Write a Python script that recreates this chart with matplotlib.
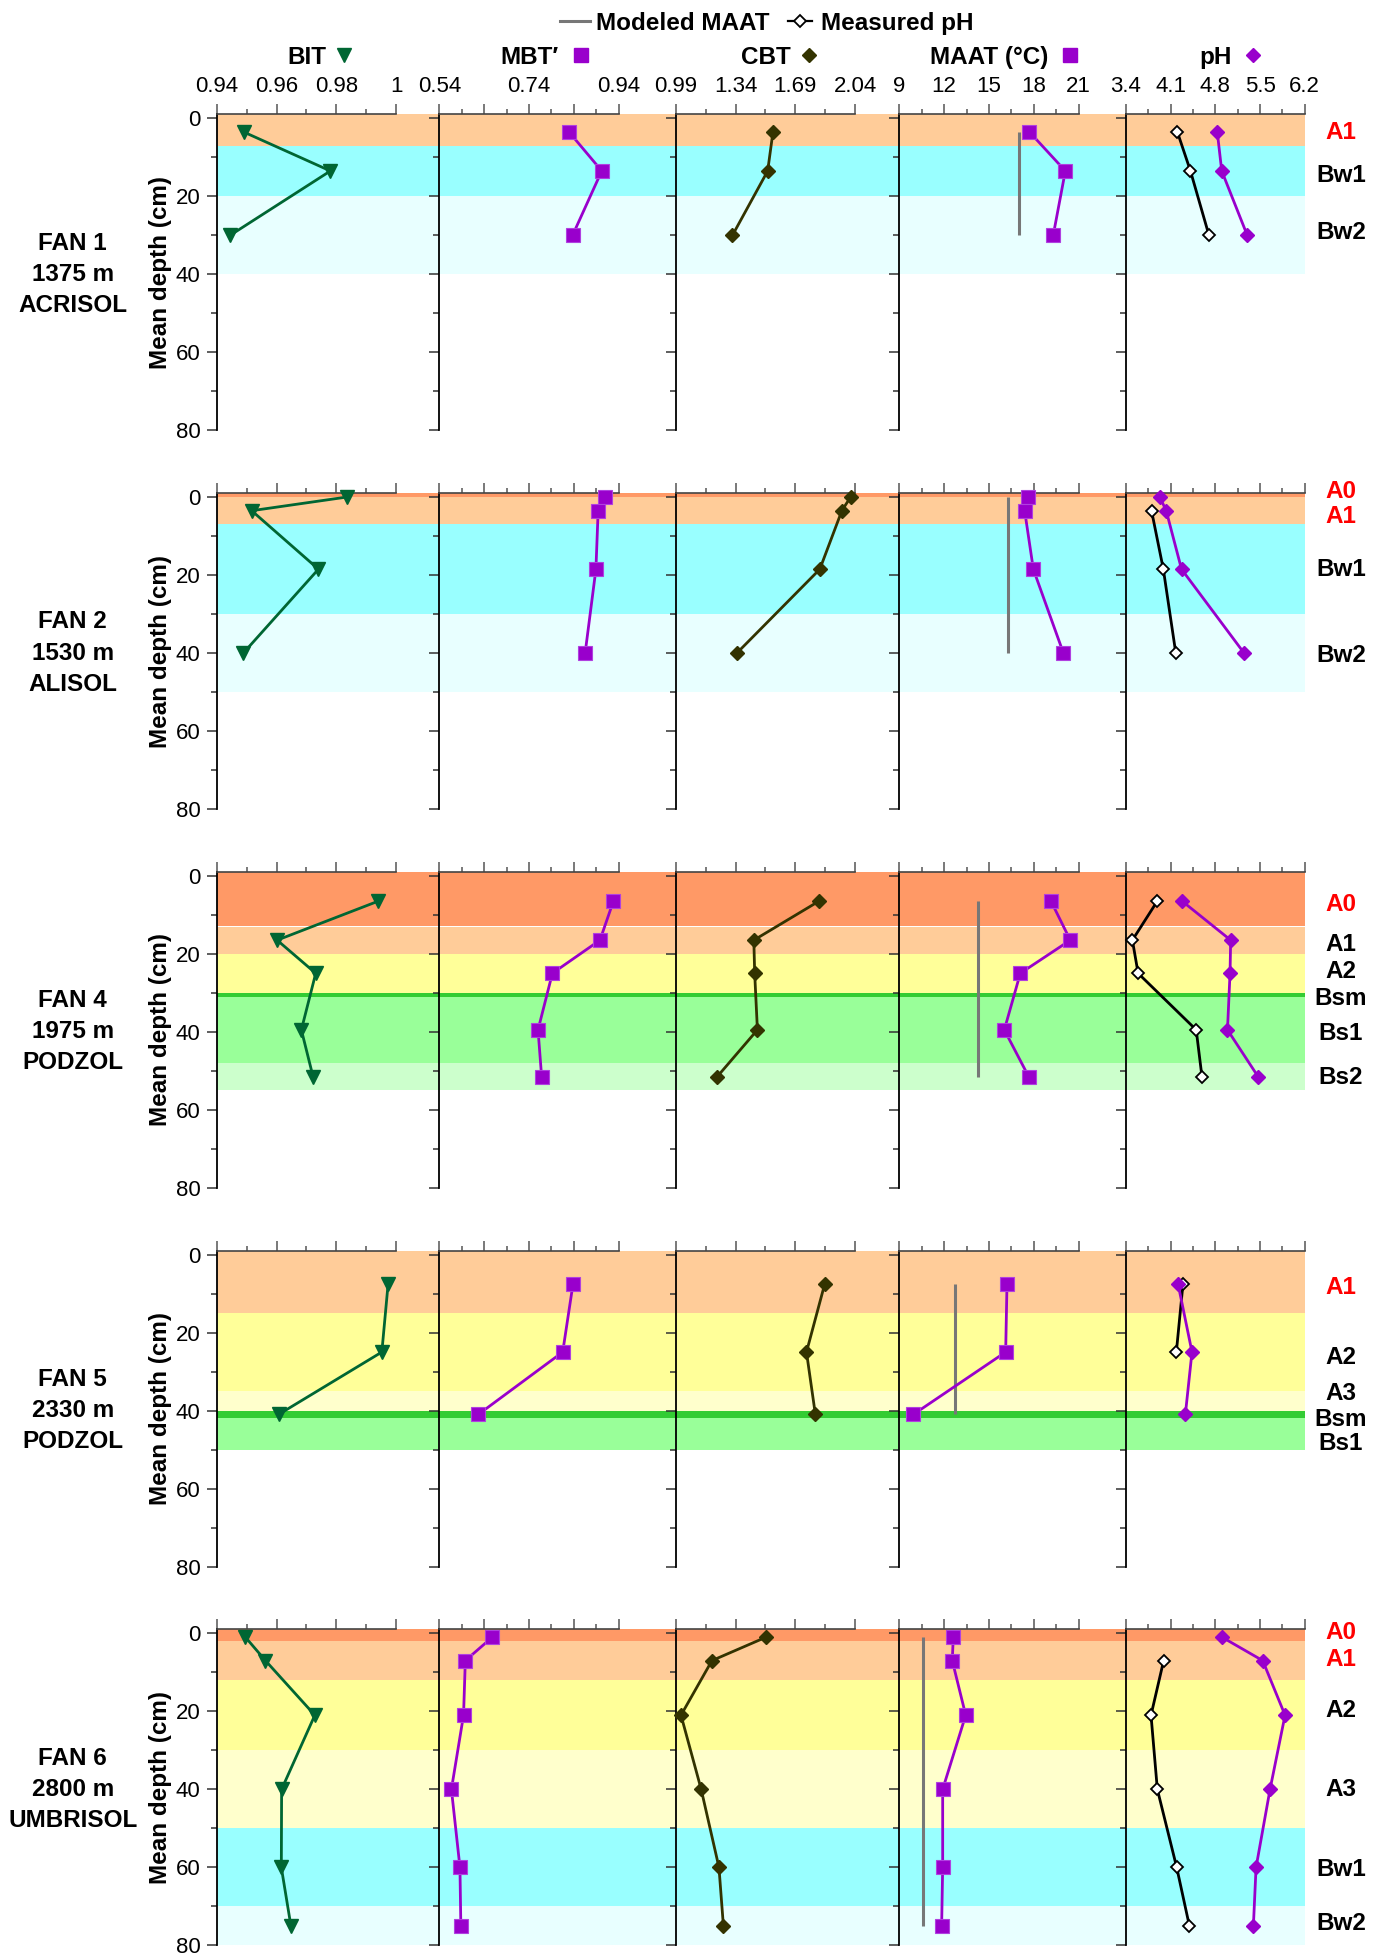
import numpy as np
import matplotlib
matplotlib.use("Agg")
import matplotlib.pyplot as plt
from matplotlib.lines import Line2D
from matplotlib.ticker import FixedLocator, FixedFormatter, NullFormatter
from matplotlib.transforms import blended_transform_factory

plt.rcParams['font.family'] = ['Liberation Sans', 'DejaVu Sans']

# ---------------------------------------------------------------- data
row_labels = ["FAN 1\n1375 m\nACRISOL", "FAN 2\n1530 m\nALISOL",
              "FAN 4\n1975 m\nPODZOL", "FAN 5\n2330 m\nPODZOL",
              "FAN 6\n2800 m\nUMBRISOL"]

depth_r1 = [3.5, 13.5, 30]
depth_r2 = [0, 3.5, 18.5, 40]
depth_r3 = [6.5, 16.5, 25, 39.5, 51.5]
depth_r4 = [7.5, 25, 41]
depth_r5 = [1, 7, 21, 40, 60, 75]

bit_r1 = [0.949, 0.978, 0.9445]
bit_r2 = [0.9835, 0.9517, 0.974, 0.9489]
bit_r3 = [0.9940, 0.9602, 0.9731, 0.9683, 0.9722]
bit_r4 = [0.9973, 0.9952, 0.9607]
bit_r5 = [0.9496, 0.9563, 0.9728, 0.9617, 0.9616, 0.9648]

mbt_r1 = [0.829, 0.902, 0.837]
mbt_r2 = [0.910, 0.894, 0.889, 0.865]
mbt_r3 = [0.928, 0.898, 0.792, 0.760, 0.768]
mbt_r4 = [0.838, 0.815, 0.627]
mbt_r5 = [0.658, 0.598, 0.594, 0.567, 0.586, 0.588]

cbt_r1 = [1.559, 1.528, 1.322]
cbt_r2 = [2.013, 1.962, 1.833, 1.348]
cbt_r3 = [1.828, 1.447, 1.452, 1.468, 1.233]
cbt_r4 = [1.862, 1.755, 1.807]
cbt_r5 = [1.518, 1.202, 1.021, 1.139, 1.243, 1.269]

maat_r1 = [17.7, 20.1, 19.29]
maat_r2 = [17.58, 17.38, 17.96, 19.97]
maat_r3 = [19.14, 20.43, 17.09, 16.02, 17.65]
maat_r4 = [16.20, 16.11, 9.94]
maat_r5 = [12.61, 12.54, 13.44, 11.90, 11.90, 11.83]

ph_r1 = [4.83, 4.90, 5.30]
ph_r2 = [3.93, 4.03, 4.27, 5.25]
ph_r3 = [4.28, 5.04, 5.03, 4.99, 5.47]
ph_r4 = [4.215, 4.434, 4.33]
ph_r5 = [4.905, 5.542, 5.892, 5.657, 5.438, 5.396]

nan = np.nan
measured_ph_r1 = [4.205, 4.41, 4.70]
measured_ph_r2 = [nan, 3.80, 3.985, 4.18]
measured_ph_r3 = [3.89, 3.50, 3.59, 4.50, 4.59]
measured_ph_r4 = [4.293, 4.189, nan]
measured_ph_r5 = [nan, 3.990, 3.792, 3.891, 4.194, 4.393]

modeled_maat = [16.98, 16.27, 14.28, 12.70, 10.58]

# horizons: (name, top, bottom)
horizons_r1 = [("A1", -1, 7), ("Bw1", 7, 20), ("Bw2", 20, 40)]
horizons_r2 = [("A0", -1, 0), ("A1", 0, 7), ("Bw1", 7, 30), ("Bw2", 30, 50)]
horizons_r3 = [("A0", -1, 13), ("A1", 13, 20), ("A2", 20, 30), ("Bsm", 30, 31),
               ("Bs1", 31, 48), ("Bs2", 48, 55)]
horizons_r4 = [("A1", -1, 15), ("A2", 15, 35), ("A3", 35, 40), ("Bsm", 40, 42),
               ("Bs1", 42, 50)]
horizons_r5 = [("A0", -1, 2), ("A1", 2, 12), ("A2", 12, 30), ("A3", 30, 50),
               ("Bw1", 50, 70), ("Bw2", 70, 80)]

# horizon label names, depths and highlight flags
hlabel_r1 = [("A1", 3.0, True), ("Bw1", 14.0, False), ("Bw2", 28.6, False)]
hlabel_r2 = [("A0", -2.1, True), ("A1", 4.4, True), ("Bw1", 18.0, False), ("Bw2", 40.0, False)]
hlabel_r3 = [("A0", 6.6, True), ("A1", 17.0, False), ("A2", 24.0, False), ("Bsm", 30.8, False),
             ("Bs1", 39.7, False), ("Bs2", 51.0, False)]
hlabel_r4 = [("A1", 7.8, True), ("A2", 25.7, False), ("A3", 35.0, False), ("Bsm", 41.6, False),
             ("Bs1", 47.7, False)]
hlabel_r5 = [("A0", -0.9, True), ("A1", 6.0, True), ("A2", 19.2, False), ("A3", 39.3, False),
             ("Bw1", 59.8, False), ("Bw2", 73.8, False)]

col_titles = ["BIT", "MBT\u2032", "CBT", "MAAT (\u00b0C)", "pH"]
x_ranges = [(0.94, 1.0), (0.54, 0.94), (0.99, 2.04), (9, 21), (3.4, 6.2)]
x_major_n = [4, 5, 4, 5, 5]
x_minor_n = [7, 9, 7, 9, 9]
x_tick_labels = [["0.94", "0.96", "0.98", "1"],
                 ["0.54", "", "0.74", "", "0.94"],
                 ["0.99", "1.34", "1.69", "2.04"],
                 ["9", "12", "15", "18", "21"],
                 ["3.4", "4.1", "4.8", "5.5", "6.2"]]
y_major = [0, 20, 40, 60, 80]
y_minor = [10, 30, 50, 70]

rows = [
    (depth_r1, bit_r1, mbt_r1, cbt_r1, maat_r1, ph_r1, measured_ph_r1, horizons_r1, hlabel_r1),
    (depth_r2, bit_r2, mbt_r2, cbt_r2, maat_r2, ph_r2, measured_ph_r2, horizons_r2, hlabel_r2),
    (depth_r3, bit_r3, mbt_r3, cbt_r3, maat_r3, ph_r3, measured_ph_r3, horizons_r3, hlabel_r3),
    (depth_r4, bit_r4, mbt_r4, cbt_r4, maat_r4, ph_r4, measured_ph_r4, horizons_r4, hlabel_r4),
    (depth_r5, bit_r5, mbt_r5, cbt_r5, maat_r5, ph_r5, measured_ph_r5, horizons_r5, hlabel_r5),
]

# ---------------------------------------------------------------- styles
hz_colors = {"A0": "#FF9966", "A1": "#FFCC99", "A2": "#FFFF99", "A3": "#FFFFCC",
             "Bw1": "#99FFFF", "Bw2": "#E8FFFF", "Bsm": "#33CC33",
             "Bs1": "#99FF99", "Bs2": "#CCFFCC"}
GREEN = "#006633"
PURPLE = "#9900CC"
OLIVE = "#333300"
GRAY = "#777777"

W, H = 1380, 1955
fig = plt.figure(figsize=(W / 100, H / 100), dpi=100)

col_left = [216.7, 439.3, 675.7, 899.3, 1126.0]
col_width = [222.6, 236.4, 223.6, 226.7, 178.7]
tick_span = [179.5, 179.5, 179.5, 179.5, 178.7]
row_top0, row_step, row_h = 114.4, 378.75, 315.9
Y_TOP, Y_BOT = -1, 80

BOLD = dict(fontsize=17.5, fontweight='bold')


def fxy(px, py):
    return px / W, 1 - py / H


for r, (dep, bit, mbt, cbt, maat, ph, mph, hz, hl) in enumerate(rows):
    top = row_top0 + r * row_step
    axes = []
    for c in range(5):
        x0, y0 = fxy(col_left[c], top + row_h)
        ax = fig.add_axes([x0, y0, col_width[c] / W, row_h / H])
        lo, hi = x_ranges[c]
        ax.set_xlim(lo, lo + (hi - lo) * col_width[c] / tick_span[c])
        ax.set_ylim(Y_BOT, Y_TOP)
        ax.patch.set_alpha(0)
        for name, t, b in hz:
            ax.axhspan(t, b, color=hz_colors[name], lw=0, zorder=0)
        for s in ('right', 'bottom'):
            ax.spines[s].set_visible(False)
        ax.spines['top'].set_bounds(lo, hi)
        ax.spines['top'].set_color('#444444')
        ax.spines['top'].set_linewidth(1.2)
        ax.spines['left'].set_color('black')
        ax.spines['left'].set_linewidth(1.3)
        ax.xaxis.tick_top()
        ax.xaxis.set_major_locator(FixedLocator(np.linspace(lo, hi, x_major_n[c])))
        ax.xaxis.set_minor_locator(FixedLocator(np.linspace(lo, hi, x_minor_n[c])))
        if r == 0:
            ax.xaxis.set_major_formatter(FixedFormatter(x_tick_labels[c]))
        else:
            ax.xaxis.set_major_formatter(NullFormatter())
        ax.xaxis.set_minor_formatter(NullFormatter())
        ax.tick_params(axis='x', which='major', direction='out', length=7.2, width=1.1,
                       color='#555555', labelsize=16, pad=5)
        ax.tick_params(axis='x', which='minor', direction='out', length=3.6, width=1.1,
                       color='#555555')
        ax.yaxis.set_major_locator(FixedLocator(y_major))
        ax.yaxis.set_minor_locator(FixedLocator(y_minor))
        ax.yaxis.set_minor_formatter(NullFormatter())
        if c != 0:
            ax.yaxis.set_major_formatter(NullFormatter())
        ax.tick_params(axis='y', which='major', direction='out', length=7.2, width=1.1,
                       color='#333333', labelsize=16, pad=4.5)
        ax.tick_params(axis='y', which='minor', direction='out', length=4.3, width=1.1,
                       color='#333333')
        axes.append(ax)

    a_bit, a_mbt, a_cbt, a_maat, a_ph = axes
    a_bit.plot(bit, dep, color=GREEN, lw=2.0, marker='v', ms=9.5, mfc=GREEN, mec=GREEN,
               clip_on=False, zorder=5)
    a_mbt.plot(mbt, dep, color=PURPLE, lw=2.0, marker='s', ms=10.2, mfc=PURPLE,
               mec='#B040E0', mew=0.8, clip_on=False, zorder=5)
    a_cbt.plot(cbt, dep, color=OLIVE, lw=2.0, marker='D', ms=6.8, mfc=OLIVE, mec=OLIVE,
               clip_on=False, zorder=5)
    a_maat.plot([modeled_maat[r], modeled_maat[r]], [dep[0], dep[-1]], color=GRAY, lw=2.2,
                solid_capstyle='butt', zorder=3)
    a_maat.plot(maat, dep, color=PURPLE, lw=2.0, marker='s', ms=10.2, mfc=PURPLE,
                mec='#B040E0', mew=0.8, clip_on=False, zorder=5)
    a_ph.plot(mph, dep, color='black', lw=2.0, marker='D', ms=6.5, mfc='white',
              mec='black', mew=1.3, clip_on=False, zorder=5)
    a_ph.plot(ph, dep, color=PURPLE, lw=2.0, marker='D', ms=6.8, mfc=PURPLE, mec=PURPLE,
              clip_on=False, zorder=6)

    trans = blended_transform_factory(a_ph.transAxes, a_ph.transData)
    xlab = (1341 - col_left[4]) / col_width[4]
    for name, d, red in hl:
        a_ph.text(xlab, d, name, transform=trans, ha='center', va='center_baseline',
                  color='#FF0000' if red else 'black', clip_on=False, **BOLD)

    # row label and y label (centered at depth 40 / axes centre)
    yc = top + (40 - Y_TOP) / (Y_BOT - Y_TOP) * row_h
    fig.text(*fxy(72.7, yc), row_labels[r], ha='center', va='center', ma='center',
             linespacing=1.45, **BOLD)
    ymid = top + row_h / 2
    fig.text(*fxy(160, ymid), "Mean depth (cm)", rotation=90, ha='center', va='center',
             **BOLD)

# column titles with marker symbols
title_y = 55
marker_x = [344, 581, 809, 1070, 1253]
marker_style = [dict(marker='v', ms=10, color=GREEN),
                dict(marker='s', ms=10.5, color=PURPLE),
                dict(marker='D', ms=7.6, color=OLIVE),
                dict(marker='s', ms=10.5, color=PURPLE),
                dict(marker='D', ms=7.6, color=PURPLE)]
for c in range(5):
    xc = col_left[c] + tick_span[c] / 2
    fig.text(*fxy(xc, title_y), col_titles[c], ha='center', va='center_baseline', **BOLD)
    mx, my = fxy(marker_x[c], title_y)
    st = marker_style[c]
    fig.add_artist(Line2D([mx], [my], transform=fig.transFigure, linestyle='none',
                          marker=st['marker'], ms=st['ms'], mfc=st['color'],
                          mec=st['color']))

# legend at top
ly = 21
x1, y1 = fxy(560, ly)
x2, _ = fxy(590, ly)
fig.add_artist(Line2D([x1, x2], [y1, y1], transform=fig.transFigure, color=GRAY, lw=2.2))
fig.text(*fxy(596, ly), "Modeled MAAT", ha='left', va='center_baseline', **BOLD)
x1, _ = fxy(788, ly)
x2, _ = fxy(812, ly)
fig.add_artist(Line2D([x1, x2], [y1, y1], transform=fig.transFigure, color='black', lw=1.6))
mx, _ = fxy(800, ly)
fig.add_artist(Line2D([mx], [y1], transform=fig.transFigure, linestyle='none', marker='D',
                      ms=6.5, mfc='white', mec='black', mew=1.3))
fig.text(*fxy(821, ly), "Measured pH", ha='left', va='center_baseline', **BOLD)

fig.savefig("out.png", dpi=100)
